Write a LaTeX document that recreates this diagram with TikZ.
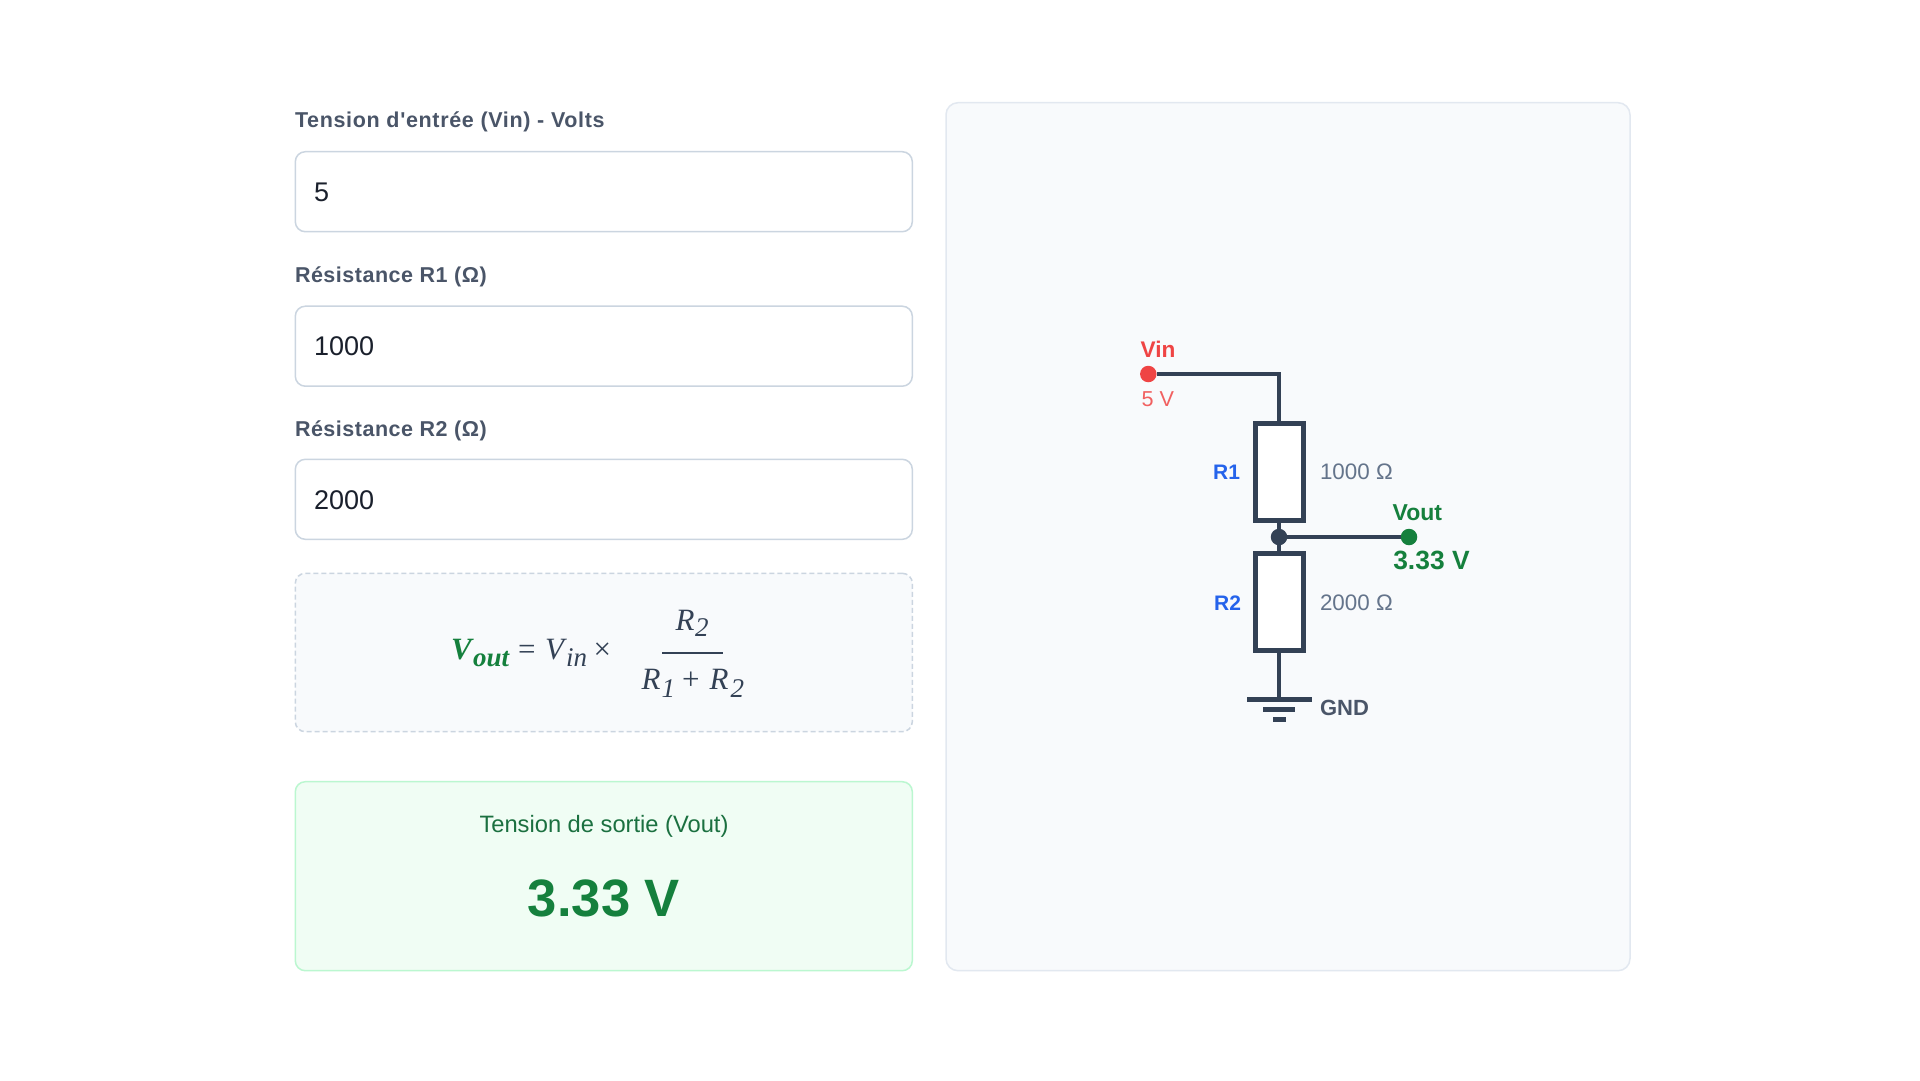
\documentclass[tikz,border=0pt]{standalone}
\usepackage{fontspec}
\setmainfont{Liberation Sans}
\newfontfamily\fserif{Liberation Serif}
\newfontfamily\labfont[LetterSpace=2.4]{Liberation Sans}
\newfontfamily\labfontwide[LetterSpace=3.1]{Liberation Sans}
\definecolor{labelc}{HTML}{4A5568}
\definecolor{fieldb}{HTML}{CBD5E0}
\definecolor{inktext}{HTML}{1A202C}
\definecolor{panelbg}{HTML}{F8FAFC}
\definecolor{panelb}{HTML}{E2E8F0}
\definecolor{greent}{HTML}{15803D}
\definecolor{greendk}{HTML}{1B7040}
\definecolor{greenbg}{HTML}{F0FDF4}
\definecolor{greenb}{HTML}{BBF7D0}
\definecolor{redc}{HTML}{EF4444}
\definecolor{bluec}{HTML}{2563EB}
\definecolor{wirec}{HTML}{334155}
\definecolor{greyc}{HTML}{64748B}
\newcommand{\fs}[1]{\fontsize{#1}{#1}\selectfont}
\tikzset{
  box/.style={rectangle,inner sep=0pt,outer sep=0pt,rounded corners=10pt,line width=1.5pt},
  field/.style={box,draw=fieldb,fill=white,minimum width=617pt,minimum height=80pt},
  txt/.style={inner sep=0pt,outer sep=0pt,anchor=base west},
  flabel/.style={txt,text=labelc,font=\labfont\fs{21.5}\bfseries},
  fvalue/.style={txt,text=inktext,font=\fs{27}},
  wire/.style={draw=wirec,line width=4.8pt},
  res/.style={rectangle,draw=wirec,fill=white,line width=5pt,inner sep=0pt,outer sep=0pt,minimum width=48pt},
  dot/.style={circle,inner sep=0pt,outer sep=0pt,minimum size=16.5pt},
  gbar/.style={rectangle,fill=wirec,inner sep=0pt,outer sep=0pt,minimum height=5pt},
  fm/.style={txt,text=wirec,font=\fserif\fs{31}\itshape},
  fsub/.style={txt,text=wirec,font=\fserif\fs{27}\itshape},
  fop/.style={txt,text=wirec,font=\fserif\fs{31}},
}
\begin{document}
\begin{tikzpicture}[x=1pt,y=-1pt]
\useasboundingbox (0,0) rectangle (1920,1080);
\fill[white] (0,0) rectangle (1920,1080);
% left column
\node[flabel,font=\labfontwide\fs{21.5}\bfseries] (lab1) at (295,127.7) {Tension d'entrée (Vin) - Volts};
\node[field] (f1) at (603.8,191.7) {};
\node[fvalue] (v1) at (314,201) {5};
\node[flabel] (lab2) at (295,282.5) {Résistance R1 (Ω)};
\node[field] (f2) at (603.8,346.2) {};
\node[fvalue] (v2) at (314,355.7) {1000};
\node[flabel] (lab3) at (295,436.7) {Résistance R2 (Ω)};
\node[field] (f3) at (603.8,499.3) {};
\node[fvalue] (v3) at (314,509) {2000};
% formula
\node[box,draw=fieldb,fill=panelbg,dash pattern=on 5pt off 3pt,minimum width=617pt,minimum height=158.4pt] (fbox) at (603.8,652.5) {};
\node[fm,text=greent,font=\fserif\fs{31}\itshape\bfseries] (fv) at (451,659) {V};
\node[fsub,text=greent,font=\fserif\fs{27}\itshape\bfseries] (fout) at (473,666.7) {out};
\node[fop] (feq) at (518,659) {=};
\node[fm] (fvi) at (545,659) {V};
\node[fsub] (fin) at (566,666.7) {in};
\node[fop] (ftimes) at (593.5,659) {×};
\node[fm] (fn1) at (675.5,630) {R};
\node[fsub] (fn2) at (695,636.7) {2};
\draw[draw=wirec,line width=1.7pt] (662.3,652.7) -- (722.7,652.7);
\node[fm] (fd1) at (641.5,689.3) {R};
\node[fsub] (fd2) at (661.5,697) {1};
\node[fop] (fplus) at (682,689.3) {+};
\node[fm] (fd3) at (709.5,689.3) {R};
\node[fsub] (fd4) at (730.5,697) {2};
% result
\node[box,draw=greenb,fill=greenbg,minimum width=617pt,minimum height=189pt] (rbox) at (603.8,876.2) {};
\node[txt,anchor=base,text=greendk,font=\fs{23.7}] (rlab) at (604,832.3) {Tension de sortie (Vout)};
\node[txt,anchor=base,text=greent,font=\fs{52.6}\bfseries] (rval) at (604,916.7) {3.33 V};
% panel
\node[box,draw=panelb,fill=panelbg,rounded corners=12pt,minimum width=684pt,minimum height=868pt] (panel) at (1288,536.7) {};
% circuit
\node[dot,fill=redc] (vin) at (1148.3,374) {};
\node[res,minimum height=97pt] (r1) at (1279,471.5) {};
\node[dot,fill=wirec] (junc) at (1279,537) {};
\node[res,minimum height=97pt] (r2) at (1279,601.8) {};
\node[dot,fill=greent] (vout) at (1409,537) {};
\node[gbar,minimum width=65pt] (g1) at (1279,699.3) {};
\node[gbar,minimum width=32pt] (g2) at (1279,709.3) {};
\node[gbar,minimum width=13pt] (g3) at (1279,719.3) {};
\draw[wire] (vin) -| (r1.north);
\draw[wire] (r1.south) -- (junc);
\draw[wire] (junc) -- (r2.north);
\draw[wire] (junc) -- (vout);
\draw[wire] (r2.south) -- (g1.north);
\node[txt,text=redc,font=\fs{22.6}\bfseries] (tvin) at (1140.7,357) {Vin};
\node[txt,text=redc!85!white,font=\fs{21.6}] (t5v) at (1141.5,406.7) {5 V};
\node[txt,anchor=base east,text=bluec,font=\fs{21}\bfseries] (tr1) at (1240,479) {R1};
\node[txt,text=greyc,font=\fs{22.4}] (tv1) at (1320,479) {1000 Ω};
\node[txt,text=greent,font=\fs{23}\bfseries] (tvout) at (1392.7,520) {Vout};
\node[txt,text=greent,font=\fs{26.4}\bfseries] (t333) at (1393.3,569.3) {3.33 V};
\node[txt,anchor=base east,text=bluec,font=\fs{21}\bfseries] (tr2) at (1241,610) {R2};
\node[txt,text=greyc,font=\fs{22.4}] (tv2) at (1320,610) {2000 Ω};
\node[txt,text=labelc,font=\fs{22}\bfseries] (tgnd) at (1320,715) {GND};
\end{tikzpicture}
\end{document}
